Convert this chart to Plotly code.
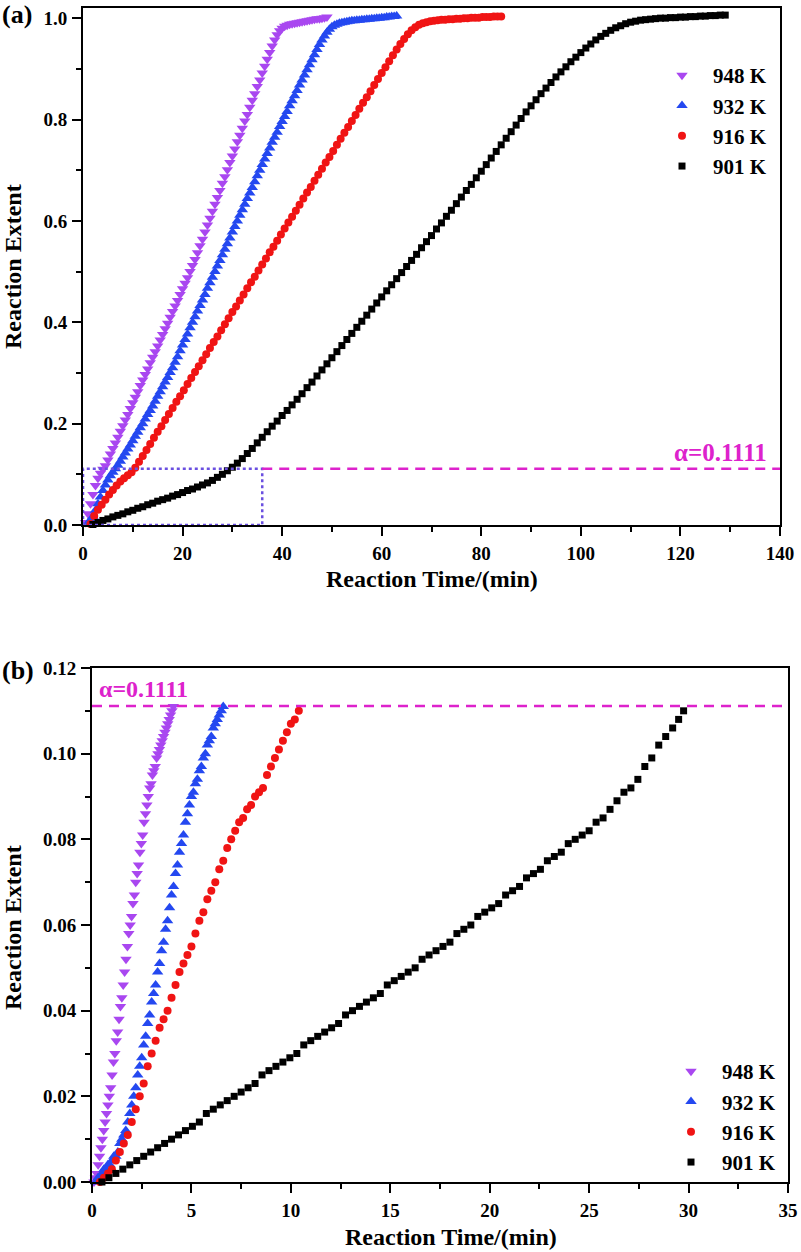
import plotly.graph_objects as go

FONT = "Liberation Serif"
W, H = 801, 1252

ALPHA = 0.1111
RECT_T = 36

NAMES = ["948 K", "932 K", "916 K", "901 K"]

# ---------------- Panel (a) data ----------------
T948A = [0.5, 1.0, 1.5, 2.0, 2.5, 3.0, 3.5, 4.0, 4.5, 5.0, 5.5, 6.0, 6.5, 7.0, 7.5, 8.0, 8.5, 9.0, 9.5, 10.0,
         10.5, 11.0, 11.5, 12.0, 12.5, 13.0, 13.5, 14.0, 14.5, 15.0, 15.5, 16.0, 16.5, 17.0, 17.5, 18.0, 18.5, 19.0, 19.5, 20.0,
         20.5, 21.0, 21.5, 22.0, 22.5, 23.0, 23.5, 24.0, 24.5, 25.0, 25.5, 26.0, 26.5, 27.0, 27.5, 28.0, 28.5, 29.0, 29.5, 30.0,
         30.5, 31.0, 31.5, 32.0, 32.5, 33.0, 33.5, 34.0, 34.5, 35.0, 35.5, 36.0, 36.5, 37.0, 37.5, 38.0, 38.5, 39.0, 39.5, 40.0,
         40.5, 41.0, 41.5, 42.0, 42.5, 43.0, 43.5, 44.0, 44.5, 45.0, 45.5, 46.0, 46.5, 47.0, 47.5, 48.0, 48.5, 49.0]
A948A = [0.005, 0.022, 0.042, 0.060, 0.078, 0.092, 0.102, 0.110, 0.117, 0.128, 0.140, 0.151, 0.162, 0.173, 0.185, 0.196, 0.207, 0.218, 0.230, 0.241,
         0.252, 0.263, 0.275, 0.286, 0.297, 0.308, 0.320, 0.331, 0.342, 0.353, 0.365, 0.376, 0.387, 0.398, 0.410, 0.421, 0.432, 0.443, 0.455, 0.466,
         0.477, 0.488, 0.500, 0.512, 0.524, 0.537, 0.551, 0.564, 0.578, 0.592, 0.605, 0.619, 0.633, 0.646, 0.660, 0.674, 0.687, 0.701, 0.715, 0.728,
         0.742, 0.756, 0.769, 0.783, 0.797, 0.810, 0.824, 0.838, 0.851, 0.865, 0.878, 0.892, 0.905, 0.919, 0.932, 0.945, 0.957, 0.967, 0.975, 0.980,
         0.984, 0.986, 0.988, 0.989, 0.990, 0.991, 0.992, 0.993, 0.994, 0.995, 0.996, 0.997, 0.998, 0.999, 0.999, 1.000, 1.001, 1.002]

T932A = [1.0, 1.5, 2.0, 2.5, 3.0, 3.5, 4.0, 4.5, 5.0, 5.5, 6.0, 6.5, 7.0, 7.5, 8.0, 8.5, 9.0, 9.5, 10.0, 10.5,
         11.0, 11.5, 12.0, 12.5, 13.0, 13.5, 14.0, 14.5, 15.0, 15.5, 16.0, 16.5, 17.0, 17.5, 18.0, 18.5, 19.0, 19.5, 20.0, 20.5,
         21.0, 21.5, 22.0, 22.5, 23.0, 23.5, 24.0, 24.5, 25.0, 25.5, 26.0, 26.5, 27.0, 27.5, 28.0, 28.5, 29.0, 29.5, 30.0, 30.5,
         31.0, 31.5, 32.0, 32.5, 33.0, 33.5, 34.0, 34.5, 35.0, 35.5, 36.0, 36.5, 37.0, 37.5, 38.0, 38.5, 39.0, 39.5, 40.0, 40.5,
         41.0, 41.5, 42.0, 42.5, 43.0, 43.5, 44.0, 44.5, 45.0, 45.5, 46.0, 46.5, 47.0, 47.5, 48.0, 48.5, 49.0, 49.5, 50.0, 50.5,
         51.0, 51.5, 52.0, 52.5, 53.0, 53.5, 54.0, 54.5, 55.0, 55.5, 56.0, 56.5, 57.0, 57.5, 58.0, 58.5, 59.0, 59.5, 60.0, 60.5,
         61.0, 61.5, 62.0, 62.5, 63.0]
A932A = [0.004, 0.010, 0.017, 0.029, 0.042, 0.055, 0.068, 0.079, 0.089, 0.097, 0.104, 0.111, 0.118, 0.126, 0.134, 0.142, 0.150, 0.158, 0.166, 0.175,
         0.183, 0.192, 0.200, 0.209, 0.218, 0.226, 0.235, 0.244, 0.254, 0.263, 0.273, 0.282, 0.291, 0.301, 0.310, 0.321, 0.332, 0.344, 0.355, 0.366,
         0.377, 0.389, 0.400, 0.411, 0.422, 0.433, 0.444, 0.455, 0.467, 0.478, 0.489, 0.500, 0.511, 0.522, 0.533, 0.544, 0.555, 0.566, 0.578, 0.589,
         0.600, 0.611, 0.622, 0.633, 0.644, 0.655, 0.666, 0.677, 0.689, 0.700, 0.711, 0.722, 0.733, 0.744, 0.755, 0.765, 0.775, 0.786, 0.796, 0.806,
         0.816, 0.827, 0.837, 0.847, 0.857, 0.868, 0.878, 0.888, 0.898, 0.908, 0.918, 0.928, 0.938, 0.948, 0.957, 0.965, 0.972, 0.978, 0.983, 0.986,
         0.988, 0.990, 0.991, 0.992, 0.993, 0.994, 0.995, 0.995, 0.996, 0.996, 0.997, 0.997, 0.998, 0.998, 0.999, 0.999, 1.000, 1.000, 1.001, 1.001,
         1.002, 1.002, 1.003, 1.003, 1.004]

T916A = [1.5, 2.25, 3.0, 3.75, 4.5, 5.25, 6.0, 6.75, 7.5, 8.25, 9.0, 9.75, 10.5, 11.25, 12.0, 12.75, 13.5, 14.25, 15.0, 15.75,
         16.5, 17.25, 18.0, 18.75, 19.5, 20.25, 21.0, 21.75, 22.5, 23.25, 24.0, 24.75, 25.5, 26.25, 27.0, 27.75, 28.5, 29.25, 30.0, 30.75,
         31.5, 32.25, 33.0, 33.75, 34.5, 35.25, 36.0, 36.75, 37.5, 38.25, 39.0, 39.75, 40.5, 41.25, 42.0, 42.75, 43.5, 44.25, 45.0, 45.75,
         46.5, 47.25, 48.0, 48.75, 49.5, 50.25, 51.0, 51.75, 52.5, 53.25, 54.0, 54.75, 55.5, 56.25, 57.0, 57.75, 58.5, 59.25, 60.0, 60.75,
         61.5, 62.25, 63.0, 63.75, 64.5, 65.25, 66.0, 66.75, 67.5, 68.25, 69.0, 69.75, 70.5, 71.25, 72.0, 72.75, 73.5, 74.25, 75.0, 75.75,
         76.5, 77.25, 78.0, 78.75, 79.5, 80.25, 81.0, 81.75, 82.5, 83.25, 84.0]
A916A = [0.002, 0.018, 0.030, 0.040, 0.050, 0.060, 0.069, 0.078, 0.086, 0.092, 0.098, 0.104, 0.113, 0.125, 0.136, 0.148, 0.160, 0.172, 0.184, 0.195,
         0.207, 0.219, 0.231, 0.243, 0.254, 0.266, 0.278, 0.290, 0.302, 0.313, 0.325, 0.337, 0.349, 0.361, 0.372, 0.384, 0.396, 0.408, 0.420, 0.431,
         0.443, 0.455, 0.467, 0.479, 0.490, 0.502, 0.514, 0.526, 0.538, 0.549, 0.561, 0.573, 0.585, 0.597, 0.608, 0.620, 0.632, 0.644, 0.656, 0.667,
         0.679, 0.691, 0.703, 0.715, 0.726, 0.738, 0.750, 0.762, 0.774, 0.785, 0.797, 0.809, 0.821, 0.833, 0.844, 0.856, 0.868, 0.880, 0.892, 0.903,
         0.915, 0.927, 0.938, 0.949, 0.959, 0.968, 0.976, 0.982, 0.987, 0.990, 0.992, 0.994, 0.995, 0.996, 0.997, 0.997, 0.998, 0.998, 0.999, 0.999,
         1.000, 1.000, 1.001, 1.001, 1.001, 1.002, 1.002, 1.002, 1.003, 1.003, 1.003]

T901A = [2, 3, 4, 5, 6, 7, 8, 9, 10, 11, 12, 13, 14, 15, 16, 17, 18, 19, 20, 21,
         22, 23, 24, 25, 26, 27, 28, 29, 30, 31, 32, 33, 34, 35, 36, 37, 38, 39, 40, 41,
         42, 43, 44, 45, 46, 47, 48, 49, 50, 51, 52, 53, 54, 55, 56, 57, 58, 59, 60, 61,
         62, 63, 64, 65, 66, 67, 68, 69, 70, 71, 72, 73, 74, 75, 76, 77, 78, 79, 80, 81,
         82, 83, 84, 85, 86, 87, 88, 89, 90, 91, 92, 93, 94, 95, 96, 97, 98, 99, 100, 101,
         102, 103, 104, 105, 106, 107, 108, 109, 110, 111, 112, 113, 114, 115, 116, 117, 118, 119, 120, 121,
         122, 123, 124, 125, 126, 127, 128, 129]
A901A = [0.001, 0.005, 0.009, 0.012, 0.016, 0.019, 0.022, 0.026, 0.029, 0.033, 0.036, 0.040, 0.043, 0.047, 0.050, 0.053, 0.057, 0.060, 0.064, 0.068,
         0.071, 0.075, 0.079, 0.083, 0.088, 0.094, 0.100, 0.107, 0.114, 0.122, 0.131, 0.141, 0.151, 0.162, 0.173, 0.184, 0.195, 0.205, 0.216, 0.226,
         0.237, 0.248, 0.259, 0.271, 0.282, 0.294, 0.306, 0.318, 0.330, 0.342, 0.354, 0.366, 0.378, 0.390, 0.402, 0.414, 0.426, 0.438, 0.450, 0.462,
         0.474, 0.486, 0.498, 0.510, 0.522, 0.534, 0.547, 0.559, 0.571, 0.584, 0.596, 0.609, 0.621, 0.634, 0.647, 0.660, 0.672, 0.685, 0.698, 0.711,
         0.724, 0.737, 0.750, 0.763, 0.776, 0.789, 0.802, 0.815, 0.827, 0.839, 0.851, 0.862, 0.873, 0.884, 0.894, 0.904, 0.914, 0.923, 0.932, 0.941,
         0.949, 0.957, 0.964, 0.970, 0.976, 0.981, 0.985, 0.989, 0.992, 0.994, 0.996, 0.997, 0.998, 0.999, 1.000, 1.000, 1.001, 1.001, 1.002, 1.002,
         1.003, 1.003, 1.004, 1.004, 1.005, 1.005, 1.006, 1.006]

# ---------------- Panel (b) data ----------------
T948B = [0.10, 0.17, 0.24, 0.31, 0.38, 0.45, 0.52, 0.59, 0.66, 0.73, 0.80, 0.87, 0.94, 1.01, 1.08, 1.15, 1.22, 1.29, 1.36, 1.43,
         1.50, 1.57, 1.64, 1.71, 1.78, 1.85, 1.92, 1.99, 2.06, 2.13, 2.20, 2.27, 2.34, 2.41, 2.48, 2.55, 2.62, 2.69, 2.76, 2.83,
         2.90, 2.97, 3.04, 3.11, 3.18, 3.25, 3.32, 3.39, 3.46, 3.53, 3.60, 3.67, 3.74, 3.81, 3.88, 3.95, 4.02, 4.09]
A948B = [0.000, 0.001, 0.002, 0.004, 0.006, 0.008, 0.010, 0.012, 0.014, 0.016, 0.018, 0.020, 0.022, 0.025, 0.028, 0.030, 0.033, 0.035, 0.038, 0.041,
         0.043, 0.046, 0.049, 0.052, 0.055, 0.058, 0.060, 0.062, 0.065, 0.067, 0.070, 0.072, 0.074, 0.077, 0.079, 0.081, 0.084, 0.086, 0.088, 0.090,
         0.092, 0.093, 0.095, 0.096, 0.097, 0.099, 0.100, 0.101, 0.102, 0.103, 0.104, 0.105, 0.106, 0.107, 0.108, 0.109, 0.110, 0.111]

T932B = [0.2, 0.3, 0.4, 0.5, 0.6, 0.7, 0.8, 0.9, 1.0, 1.1, 1.2, 1.3, 1.4, 1.5, 1.6, 1.7, 1.8, 1.9, 2.0, 2.1,
         2.2, 2.3, 2.4, 2.5, 2.6, 2.7, 2.8, 2.9, 3.0, 3.1, 3.2, 3.3, 3.4, 3.5, 3.6, 3.7, 3.8, 3.9, 4.0, 4.1,
         4.2, 4.3, 4.4, 4.5, 4.6, 4.7, 4.8, 4.9, 5.0, 5.1, 5.2, 5.3, 5.4, 5.5, 5.6, 5.7, 5.8, 5.9, 6.0, 6.1,
         6.2, 6.3, 6.4, 6.5, 6.6]
A932B = [0.000, 0.001, 0.001, 0.002, 0.003, 0.003, 0.004, 0.004, 0.005, 0.006, 0.006, 0.007, 0.009, 0.010, 0.011, 0.012, 0.014, 0.016, 0.018, 0.020,
         0.022, 0.025, 0.027, 0.029, 0.032, 0.034, 0.037, 0.039, 0.042, 0.044, 0.046, 0.049, 0.051, 0.054, 0.056, 0.059, 0.061, 0.064, 0.067, 0.069,
         0.072, 0.074, 0.077, 0.079, 0.081, 0.084, 0.086, 0.088, 0.090, 0.091, 0.093, 0.094, 0.096, 0.097, 0.099, 0.100, 0.102, 0.103, 0.104, 0.106,
         0.107, 0.108, 0.109, 0.110, 0.111]

T916B = [0.4, 0.6, 0.8, 1.0, 1.2, 1.4, 1.6, 1.8, 2.0, 2.2, 2.4, 2.6, 2.8, 3.0, 3.2, 3.4, 3.6, 3.8, 4.0, 4.2,
         4.4, 4.6, 4.8, 5.0, 5.2, 5.4, 5.6, 5.8, 6.0, 6.2, 6.4, 6.6, 6.8, 7.0, 7.2, 7.4, 7.6, 7.8, 8.0, 8.2,
         8.4, 8.6, 8.8, 9.0, 9.2, 9.4, 9.6, 9.8, 10.0, 10.2, 10.4]
A916B = [0.000, 0.001, 0.002, 0.003, 0.005, 0.007, 0.009, 0.011, 0.014, 0.017, 0.020, 0.023, 0.027, 0.030, 0.033, 0.036, 0.038, 0.040, 0.043, 0.046,
         0.049, 0.051, 0.053, 0.055, 0.058, 0.061, 0.063, 0.066, 0.068, 0.070, 0.073, 0.075, 0.078, 0.080, 0.082, 0.084, 0.085, 0.087, 0.088, 0.090,
         0.091, 0.092, 0.095, 0.097, 0.099, 0.101, 0.103, 0.105, 0.107, 0.108, 0.110]

T901B = [0.50, 0.85, 1.20, 1.55, 1.90, 2.25, 2.60, 2.95, 3.30, 3.65, 4.00, 4.35, 4.70, 5.05, 5.40, 5.75, 6.10, 6.45, 6.80, 7.15,
         7.50, 7.85, 8.20, 8.55, 8.90, 9.25, 9.60, 9.95, 10.30, 10.65, 11.00, 11.35, 11.70, 12.05, 12.40, 12.75, 13.10, 13.45, 13.80, 14.15,
         14.50, 14.85, 15.20, 15.55, 15.90, 16.25, 16.60, 16.95, 17.30, 17.65, 18.00, 18.35, 18.70, 19.05, 19.40, 19.75, 20.10, 20.45, 20.80, 21.15,
         21.50, 21.85, 22.20, 22.55, 22.90, 23.25, 23.60, 23.95, 24.30, 24.65, 25.00, 25.35, 25.70, 26.05, 26.40, 26.75, 27.10, 27.45, 27.80, 28.15,
         28.50, 28.85, 29.20, 29.50, 29.75]
A901B = [0.000, 0.001, 0.002, 0.003, 0.004, 0.005, 0.006, 0.007, 0.008, 0.009, 0.010, 0.011, 0.012, 0.013, 0.014, 0.016, 0.017, 0.018, 0.019, 0.020,
         0.021, 0.022, 0.023, 0.025, 0.026, 0.027, 0.028, 0.029, 0.030, 0.032, 0.033, 0.034, 0.035, 0.036, 0.037, 0.039, 0.040, 0.041, 0.042, 0.043,
         0.044, 0.046, 0.047, 0.048, 0.049, 0.050, 0.052, 0.053, 0.054, 0.055, 0.056, 0.058, 0.059, 0.060, 0.062, 0.063, 0.064, 0.065, 0.067, 0.068,
         0.069, 0.071, 0.072, 0.073, 0.075, 0.076, 0.077, 0.079, 0.080, 0.081, 0.082, 0.084, 0.085, 0.087, 0.089, 0.091, 0.092, 0.094, 0.097, 0.099,
         0.102, 0.104, 0.106, 0.108, 0.110]

PURPLE = "#A947F0"
BLUE = "#2448F0"
RED = "#F01414"
BLACK = "#000000"
MAGENTA = "#DD22CC"
RECT_COLOR = "#6A4FE0"

STYLES = [("triangle-down", PURPLE, 10), ("triangle-up", BLUE, 10), ("circle", RED, 8), ("square", BLACK, 7)]

for arrs in [(T948A, A948A), (T932A, A932A), (T916A, A916A), (T901A, A901A),
             (T948B, A948B), (T932B, A932B), (T916B, A916B), (T901B, A901B)]:
    assert len(arrs[0]) == len(arrs[1]), (len(arrs[0]), len(arrs[1]))

fig = go.Figure()
panel_a = [(T948A, A948A), (T932A, A932A), (T916A, A916A), (T901A, A901A)]
panel_b = [(T948B, A948B), (T932B, A932B), (T916B, A916B), (T901B, A901B)]

for (t, a), name, (sym, col, size) in zip(panel_a, NAMES, STYLES):
    fig.add_trace(go.Scatter(x=t, y=a, mode="markers", name=name, xaxis="x", yaxis="y",
                             legend="legend", cliponaxis=False,
                             marker=dict(symbol=sym, color=col, size=size, line=dict(width=0))))
for (t, a), name, (sym, col, size) in zip(panel_b, NAMES, STYLES):
    fig.add_trace(go.Scatter(x=t, y=a, mode="markers", name=name, xaxis="x2", yaxis="y2",
                             legend="legend2", cliponaxis=False,
                             marker=dict(symbol=sym, color=col, size=size, line=dict(width=0))))

tickfont = dict(family=FONT, size=19, color="black", weight="bold")


def axis(domain, rng, dtick, minor_dtick, anchor, fmt=None, standoff=4):
    d = dict(domain=domain, range=rng, dtick=dtick, tick0=0, anchor=anchor, automargin=False,
             showline=True, linecolor="black", linewidth=2, mirror=True,
             ticks="outside", ticklen=9, tickwidth=2, tickcolor="black",
             showgrid=False, zeroline=False, tickfont=tickfont, ticklabelstandoff=standoff,
             minor=dict(ticks="outside", ticklen=5, tickwidth=2, tickcolor="black",
                        dtick=minor_dtick, tick0=0, showgrid=False))
    if fmt:
        d["tickformat"] = fmt
    return d


legend_font = dict(family=FONT, size=21, color="black", weight="bold")

fig.update_layout(
    width=W, height=H, margin=dict(l=0, r=0, t=0, b=0, autoexpand=False),
    paper_bgcolor="white", plot_bgcolor="white",
    xaxis=axis([83 / W, 780 / W], [0, 140], 20, 10, "y", standoff=1),
    yaxis=axis([1 - 525 / H, 1 - 8 / H], [0, 1.02], 0.2, 0.1, "x", ".1f", standoff=1),
    xaxis2=axis([92 / W, 788 / W], [0, 35], 5, 2.5, "y2", standoff=1),
    yaxis2=axis([1 - 1182 / H, 1 - 668 / H], [0, 0.12], 0.02, 0.01, "x2", ".2f", standoff=1),
    legend=dict(x=651 / W, y=1 - 55 / H, xanchor="left", yanchor="top", font=legend_font,
                bgcolor="rgba(0,0,0,0)", itemwidth=52, tracegroupgap=0),
    legend2=dict(x=660 / W, y=1 - 1051 / H, xanchor="left", yanchor="top", font=legend_font,
                 bgcolor="rgba(0,0,0,0)", itemwidth=52, tracegroupgap=0),
    showlegend=True,
)

fig.add_shape(type="rect", xref="x", yref="y", x0=0, x1=RECT_T, y0=0, y1=ALPHA,
              line=dict(color=RECT_COLOR, width=2.5, dash="dot"), fillcolor="rgba(0,0,0,0)", layer="above")
fig.add_shape(type="line", xref="x", yref="y", x0=RECT_T, x1=140, y0=ALPHA, y1=ALPHA,
              line=dict(color=MAGENTA, width=2.5, dash="10px,7px"), layer="above")
fig.add_shape(type="line", xref="x2", yref="y2", x0=0, x1=35, y0=ALPHA, y1=ALPHA,
              line=dict(color=MAGENTA, width=2.5, dash="10px,7px"), layer="above")

title_font = dict(family=FONT, size=24, color="black", weight="bold")
ann = []
ann.append(dict(text="α=0.1111", xref="paper", yref="y", x=769 / W, y=ALPHA, xanchor="right",
                yanchor="bottom", yshift=1, showarrow=False,
                font=dict(family=FONT, size=25, color=MAGENTA, weight="bold")))
ann.append(dict(text="α=0.1111", xref="paper", yref="y2", x=97 / W, y=ALPHA, xanchor="left",
                yanchor="bottom", yshift=2, showarrow=False,
                font=dict(family=FONT, size=24, color=MAGENTA, weight="bold")))
ann.append(dict(text="(a)", xref="paper", yref="paper", x=0, y=1 - 15 / H, xanchor="left",
                yanchor="middle", showarrow=False, font=dict(family=FONT, size=26, color="black", weight="bold")))
ann.append(dict(text="(b)", xref="paper", yref="paper", x=0, y=1 - 670 / H, xanchor="left",
                yanchor="middle", showarrow=False, font=dict(family=FONT, size=26, color="black", weight="bold")))
ann.append(dict(text="Reaction Time/(min)", xref="paper", yref="paper", x=432 / W, y=1 - 579 / H,
                xanchor="center", yanchor="middle", showarrow=False, font=title_font))
ann.append(dict(text="Reaction Time/(min)", xref="paper", yref="paper", x=451 / W, y=1 - 1237 / H,
                xanchor="center", yanchor="middle", showarrow=False, font=title_font))
ann.append(dict(text="Reaction Extent", xref="paper", yref="paper", x=13 / W, y=1 - 267 / H,
                xanchor="center", yanchor="middle", textangle=-90, showarrow=False, font=title_font))
ann.append(dict(text="Reaction Extent", xref="paper", yref="paper", x=13 / W, y=1 - 928 / H,
                xanchor="center", yanchor="middle", textangle=-90, showarrow=False, font=title_font))
fig.update_layout(annotations=ann)

fig.write_html("out.html", config={"displayModeBar": False},
               post_script="document.body.style.margin='0';document.body.style.overflow='hidden';")
